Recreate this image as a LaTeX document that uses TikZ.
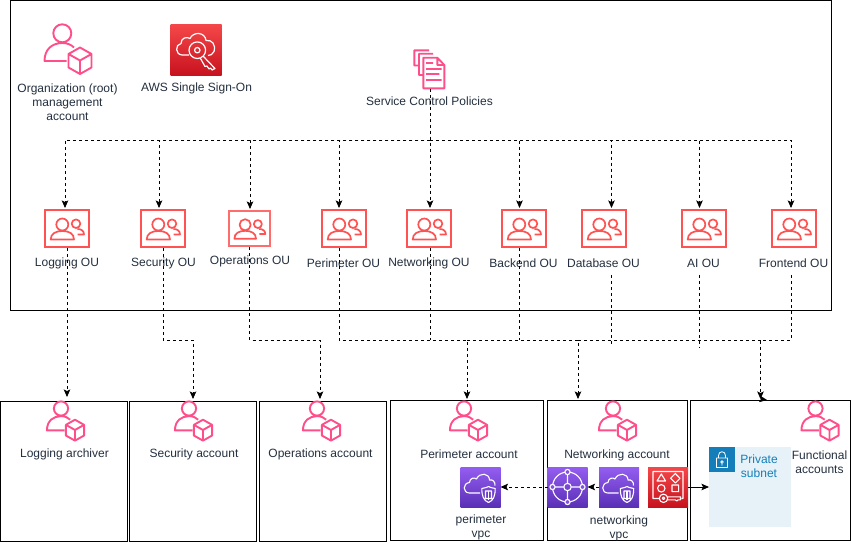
\documentclass[tikz,border=0pt]{standalone}
\usepackage{fontspec}
\usetikzlibrary{arrows.meta}
\setmainfont{Liberation Sans}
\definecolor{inkdark}{HTML}{232F3E}
\definecolor{pinkline}{HTML}{FF4F8B}
\definecolor{ouline}{HTML}{FF5252}
\definecolor{redtop}{HTML}{F54749}
\definecolor{redbot}{HTML}{C7131F}
\definecolor{violettop}{HTML}{945DF2}
\definecolor{violetbot}{HTML}{5A30B5}
\definecolor{subnetfill}{HTML}{E6F2F8}
\definecolor{subnetblue}{HTML}{147EBA}
\tikzset{
  labeltext/.style={text=inkdark,font=\fontsize{12}{14}\selectfont,align=center,inner sep=0pt},
  boxnode/.style={draw=black,line width=1pt,fill=none,inner sep=0pt,outer sep=0pt},
  oubox/.style={draw=ouline,line width=2pt,minimum width=44pt,minimum height=37pt,inner sep=0pt,outer sep=1pt},
  redicon/.style={top color=redtop,bottom color=redbot,draw=none,minimum size=40pt,inner sep=0pt,outer sep=0pt},
  violeticon/.style={top color=violettop,bottom color=violetbot,draw=none,minimum size=40pt,inner sep=0pt,outer sep=0pt},
  flowbare/.style={black,line width=.8pt,dash pattern=on 3pt off 3pt},
  flowline/.style={flowbare,->},
  useracct/.pic={
    \draw [pinkline,line width=1.9pt,line join=round]
      (-5.7,-15.2) circle (9)
      (-1.5,12.5) -- (-23.5,12.5) .. controls (-23.5,0) and (-15,-5.5) .. (-5.7,-5.5) .. controls (-1,-5.5) and (3,-4) .. (6,-1)
      (12,-1) -- (23.5,5.5) -- (23.5,19) -- (12,25.5) -- (.5,19) -- (.5,5.5) -- cycle
      (.5,5.5) -- (12,12) -- (23.5,5.5) (12,12) -- (12,25.5);
  },
  ougroup/.pic={
    \draw [ouline,line width=1.7pt,line join=round]
      (-4.7,-4) circle (6)
      (-16.3,11) .. controls (-16.3,5) and (-11,2.5) .. (-4.7,2.5) .. controls (2,2.5) and (7,5) .. (7,11) -- cycle
      (9,-4.8) circle (4.3)
      (10.5,6) -- (17,6) .. controls (17,2.5) and (14.5,.5) .. (10.5,.5);
  },
  cloudshield/.pic={
    \draw [white,line width=1.1pt,line join=round]
      (-.5,6) -- (-11,6) .. controls (-18,6) and (-18,-4) .. (-11,-4.5)
      .. controls (-11,-9) and (-6,-10) .. (-4,-8) .. controls (-1,-15) and (9,-14) .. (9,-7)
      .. controls (12,-8) and (15,-5) .. (14.5,-1.5);
    \draw [white,line width=1.1pt,line join=round]
      (1.3,1.5) .. controls (4,1.5) and (8,-.5) .. (8,-.5) .. controls (8,-.5) and (12,1.5) .. (14.7,1.5)
      .. controls (14.7,9) and (13,13.5) .. (8,15.5) .. controls (3,13.5) and (1.3,9) .. (1.3,1.5) -- cycle
      (5,4) rectangle (11,11.5);
    \draw [white,line width=1.1pt] (8,4) -- (8,13);
  },
  ssoglyph/.pic={
    \draw [white,line width=1.2pt,line join=round]
      (-7,5.5) -- (-14,5.5) .. controls (-21,5) and (-21,-5) .. (-15,-6)
      .. controls (-15,-12) and (-9,-13) .. (-6,-11) .. controls (-3,-18) and (9,-18) .. (10,-9)
      .. controls (16,-10) and (20,-5) .. (18,2) .. controls (17,5) and (14,6) .. (12,6);
    \draw [white,line width=1.2pt,line join=round]
      (1.3,.7) circle (8.3) (1.3,.7) circle (2.7)
      (7,6.5) -- (19,19) -- (16,20.5) -- (14.5,18.5) -- (13,19.5) -- (11,16.5) -- (9,17) -- (4.5,9);
  },
  gatewayglyph/.pic={
    \draw [white,line width=1.1pt]
      (0,0) circle (15) (0,0) circle (3.7)
      (-12.4,0) -- (-3.7,0) (12.4,0) -- (3.7,0)
      (0,-12.4) -- (0,-3.7) (0,12.4) -- (0,3.7);
    \draw [white,line width=1.1pt,fill=violettop!70!violetbot]
      (-15,0) circle (2.6) (15,0) circle (2.6) (0,-15) circle (2.6) (0,15) circle (2.6);
  },
  sharingglyph/.pic={
    \draw [white,line width=1.1pt,line join=round]
      (-9,11.5) -- (-15,11.5) -- (-15,-15.5) -- (15,-15.5) -- (15,11.5) -- (13.5,11.5)
      (-11,-6) -- (-6.7,-13) -- (-2.4,-6) -- cycle
      (7.3,-13.5) -- (12,-8.7) -- (7.3,-4) -- (2.6,-8.7) -- cycle
      (-6.7,1.3) circle (3.7)
      (4,-2) rectangle (10.6,4.6)
      (-4.5,11.3) circle (4.2) (-4.5,11.3) circle (1.3)
      (-.5,9.8) -- (12.5,9.8) -- (12.5,12.8) -- (10,12.8) -- (9,14) -- (7,12.8) -- (-.5,12.8);
  },
  docstack/.pic={
    \draw [pinkline,line width=1.9pt,line join=round]
      (-11,-3.5) -- (-15.7,-3.5) -- (-15.7,-18.7) -- (-1,-18.7)
      (-6.7,6) -- (-11,6) -- (-11,-15.3) -- (3,-15.3)
      (-6.7,19.3) -- (-6.7,-11.3) -- (7.3,-11.3) -- (14.3,-4) -- (14.3,19.3) -- cycle
      (7.3,-11.3) -- (7.3,-4) -- (14.3,-4)
      (-4,-6) -- (3,-6) (-4,0) -- (11.7,0) (-4,5) -- (9.3,5) (-4,11) -- (11.7,11);
  },
  lockglyph/.pic={
    \draw [white,line width=.8pt,line join=round]
      (-5.5,-1.5) rectangle (5.5,8)
      (-3.5,-1.5) -- (-3.5,-4) .. controls (-3.5,-9) and (3.5,-9) .. (3.5,-4) -- (3.5,-1.5)
      (0,2.5) circle (1.3) (0,3.8) -- (0,6);
  },
}
\begin{document}
\begin{tikzpicture}[x=1pt,y=-1pt,>={Stealth[length=7.5pt,width=6.5pt,inset=1.5pt]}]
\useasboundingbox (0,0) rectangle (851,544);
%% boxes
\node (org_box) at (420.5,155) [boxnode,minimum width=821pt,minimum height=310pt] {};
\node (box_logging) at (64,471) [boxnode,minimum width=127pt,minimum height=140pt] {};
\node (box_security) at (192.5,471) [boxnode,minimum width=127pt,minimum height=140pt] {};
\node (box_operations) at (322.5,471) [boxnode,minimum width=127pt,minimum height=140pt] {};
\node (box_perimeter) at (466.5,470.5) [boxnode,minimum width=153pt,minimum height=140pt] {};
\node (box_networking) at (617.5,470.5) [boxnode,minimum width=140pt,minimum height=140pt] {};
\node (box_functional) at (770.5,470.5) [boxnode,minimum width=160pt,minimum height=140pt] {};
\node (subnet_box) at (750,487) [fill=subnetfill,minimum width=82pt,minimum height=80pt,inner sep=0pt,outer sep=0pt] {};
%
\pic (root_user) at (68,48.5) {useracct};
\node (root_label) at (67.5,102.5) [labeltext] {Organization (root)\\management\\account};
\node (sso_icon) at (196,49.5) [redicon,minimum size=51pt] {};
\pic (sso_glyph) at (sso_icon) {ssoglyph};
\node (sso_label) at (196.5,88.5) [labeltext] {AWS Single Sign-On};
\node (scp_icon) at (430,69) [minimum width=33pt,minimum height=39pt,inner sep=0pt,outer sep=0pt] {};
\pic (scp_glyph) at (scp_icon) {docstack};
\node (scp_label) at (429.5,101.5) [labeltext] {Service Control Policies};
%% organizational units
\node (ou_logging) at (67,228.5) [oubox] {};
\node (ou_security) at (163,228.5) [oubox] {};
\node (ou_operations) at (249.5,228.5) [oubox,minimum width=41pt,minimum height=35pt,draw=ouline!85] {};
\node (ou_perimeter) at (344,228.5) [oubox] {};
\node (ou_networking) at (429,228.5) [oubox] {};
\node (ou_backend) at (524,228.5) [oubox] {};
\node (ou_database) at (604,228.5) [oubox] {};
\node (ou_ai) at (704,228.5) [oubox] {};
\node (ou_frontend) at (794,228.5) [oubox] {};
\pic (g1) at (ou_logging) {ougroup};
\pic (g2) at (ou_security) {ougroup};
\pic [scale=.93] (g3) at (ou_operations) {ougroup};
\pic (g4) at (ou_perimeter) {ougroup};
\pic (g5) at (ou_networking) {ougroup};
\pic (g6) at (ou_backend) {ougroup};
\pic (g7) at (ou_database) {ougroup};
\pic (g8) at (ou_ai) {ougroup};
\pic (g9) at (ou_frontend) {ougroup};
\node (lbl_logging) at (67,263.5) [labeltext] {Logging OU};
\node (lbl_security) at (163.5,263.5) [labeltext] {Security OU};
\node (lbl_operations) at (250,261) [labeltext] {Operations OU};
\node (lbl_perimeter) at (343.5,263.5) [labeltext] {Perimeter OU};
\node (lbl_networking) at (429,263.5) [labeltext] {Networking OU};
\node (lbl_backend) at (523.5,263.5) [labeltext] {Backend OU};
\node (lbl_database) at (603.5,263.5) [labeltext] {Database OU};
\node (lbl_ai) at (703.5,263.5) [labeltext] {AI OU};
\node (lbl_frontend) at (793.5,263.5) [labeltext] {Frontend OU};
%% accounts
\pic [scale=.79] (u_logging) at (65.5,420.5) {useracct};
\pic [scale=.79] (u_security) at (193.5,420.5) {useracct};
\pic [scale=.79] (u_operations) at (321.5,420.5) {useracct};
\pic [scale=.79] (u_perimeter) at (468.5,420.5) {useracct};
\pic [scale=.79] (u_networking) at (617.5,420.5) {useracct};
\pic [scale=.79] (u_functional) at (820,420.5) {useracct};
\node (lbl_archiver) at (64.5,454) [labeltext] {Logging archiver};
\node (lbl_secacct) at (194,454) [labeltext] {Security account};
\node (lbl_opsacct) at (320.5,454) [labeltext] {Operations account};
\node (lbl_periacct) at (469,454) [labeltext] {Perimeter account};
\node (lbl_netacct) at (617,455) [labeltext] {Networking account};
\node (lbl_funcacct) at (819.5,462) [labeltext] {Functional\\accounts};
%
\node (vpc_perimeter) at (480.5,487) [violeticon] {};
\node (tgw_icon) at (567.5,487) [violeticon] {};
\node (vpc_networking) at (619,487) [violeticon] {};
\node (ram_icon) at (668,487) [redicon] {};
\pic (c1) at (vpc_perimeter) {cloudshield};
\pic (t1) at (tgw_icon) {gatewayglyph};
\pic (c2) at (vpc_networking) {cloudshield};
\pic (s1) at (ram_icon) {sharingglyph};
\node (lbl_perivpc) at (481,527) [labeltext] {perimeter\\vpc};
\node (lbl_netvpc) at (619,528) [labeltext] {networking\\vpc};
\node (lock_icon) at (722,459.5) [fill=subnetblue,minimum size=25.5pt,inner sep=0pt,outer sep=0pt] {};
\pic (lock_glyph) at (lock_icon) {lockglyph};
\node (lbl_subnet) at (759,466.5) [labeltext,text=subnetblue] {Private\\subnet};
%% policy tree
\coordinate (tree_mid) at (430,140);
\draw [flowline] (scp_icon.south) -- ([xshift=1pt,yshift=1pt]ou_networking.north);
\draw [flowline] (tree_mid) -| ([xshift=-2pt,yshift=1pt]ou_logging.north);
\draw [flowline] (tree_mid) -| ([xshift=-4pt,yshift=1pt]ou_security.north);
\draw [flowline] (tree_mid) -| ([xshift=.5pt,yshift=1pt]ou_operations.north);
\draw [flowline] (tree_mid) -| ([xshift=-5pt,yshift=1pt]ou_perimeter.north);
\draw [flowline] (tree_mid) -| ([xshift=-4.5pt,yshift=1pt]ou_backend.north);
\draw [flowline] (tree_mid) -| ([xshift=7.5pt,yshift=1pt]ou_database.north);
\draw [flowline] (tree_mid) -| ([xshift=-4.5pt,yshift=1pt]ou_ai.north);
\draw [flowline] (tree_mid) -| ([xshift=-3pt,yshift=1pt]ou_frontend.north);
%% account links
\coordinate (in_logging) at (67,397);
\coordinate (in_security) at (193,399);
\coordinate (in_operations) at (320,399);
\coordinate (in_perimeter) at (467,399);
\coordinate (in_networking) at (578,399);
\coordinate (in_functional) at (760.5,399);
\coordinate (in_side) at (767,400);
\coordinate (bus_security) at (193,340);
\coordinate (bus_operations) at (320,340);
\coordinate (bus_perimeter) at (467,340);
\coordinate (bus_networking) at (578,340);
\coordinate (bus_functional) at (760.5,340);
\draw [flowline] (ou_logging.south) -- (in_logging);
\draw [flowline] (ou_security.south) |- (bus_security) -- (in_security);
\draw [flowline] (ou_operations.south) |- (bus_operations) -- (in_operations);
\draw [flowline] ([xshift=-5pt]ou_perimeter.south) |- (bus_perimeter) -- (in_perimeter);
\draw [flowbare] ([xshift=1pt]ou_networking.south) -- ([xshift=1pt]ou_networking.south |- bus_perimeter);
\draw [flowline] (bus_perimeter) -- (bus_networking) -- (in_networking);
\draw [flowbare] ([xshift=-4.5pt]ou_backend.south) -- ([xshift=-4.5pt]ou_backend.south |- bus_networking);
\draw [flowbare] (bus_networking) -- (bus_functional);
\draw [flowbare] ([xshift=8pt,yshift=-7pt]lbl_database.south) -- ([xshift=8pt,yshift=-7pt]lbl_database.south |- bus_functional);
\draw [flowbare] ([xshift=-4pt,yshift=-7pt]lbl_ai.south) -- ([xshift=-4pt,yshift=-7pt]lbl_ai.south |- bus_functional);
\draw [flowline] ([xshift=-2.5pt,yshift=-7pt]lbl_frontend.south) |- (bus_functional) -- (in_functional);
\draw [black,->] (in_functional) -- (in_side);
%% vpc links
\draw [flowline] (tgw_icon.west) -- (vpc_perimeter.east);
\draw [flowline] (vpc_networking.west) -- (tgw_icon.east);
\draw [black,line width=.8pt,->] (ram_icon.east) -- (ram_icon.east -| subnet_box.west);
%
\end{tikzpicture}
\end{document}
